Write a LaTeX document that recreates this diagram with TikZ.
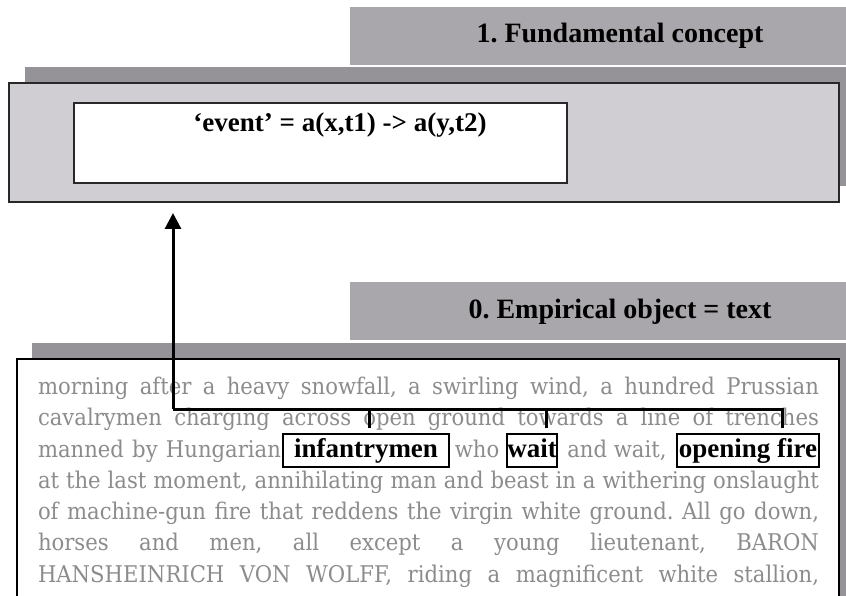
\documentclass[tikz,border=0pt]{standalone}
\usepackage{fontspec}
\setmainfont{Liberation Serif}
\newfontfamily\bodyfont[FakeStretch=0.92]{DejaVu Serif}
\usetikzlibrary{arrows.meta}
\frenchspacing

\definecolor{bannergray}{RGB}{169,167,171}
\definecolor{bandgray}{RGB}{149,147,151}
\definecolor{panelgray}{RGB}{208,206,210}
\definecolor{framegray}{RGB}{40,40,40}
\definecolor{bodygray}{RGB}{140,140,140}

\tikzset{
  block/.style={anchor=north west, inner sep=0pt, outer sep=0pt},
  banner/.style={block, fill=bannergray, minimum width=540pt, minimum height=58pt,
    font=\bfseries\fontsize{28}{30}\selectfont, text height=19pt, text depth=5pt},
  band/.style={block, fill=bandgray, minimum width=830pt},
  panel/.style={block, fill=panelgray, draw=framegray, line width=1.5pt,
    minimum width=830pt, minimum height=119pt},
  whitebox/.style={block, fill=white, draw=framegray, line width=1.5pt,
    minimum width=493pt, minimum height=80pt},
  textframe/.style={block, fill=white, draw=black, line width=1.5pt,
    minimum width=822pt, minimum height=300pt},
  formula/.style={anchor=base, inner sep=0pt, font=\bfseries\fontsize{27}{30}\selectfont},
  bodyline/.style={anchor=base west, inner sep=0pt, outer sep=0pt, text=bodygray,
    font=\bodyfont\fontsize{23}{28}\selectfont},
  wordbox/.style={anchor=base, draw=black, line width=1.3pt, inner xsep=0pt, inner ysep=3pt,
    text height=20pt, text depth=7pt, font=\bfseries\fontsize{27}{30}\selectfont},
  conn/.style={line width=3pt, black},
}

\begin{document}
\begin{tikzpicture}[x=1pt, y=-1pt]
  \useasboundingbox (0,0) rectangle (846,596);
  \clip (0,0) rectangle (846,596);

  % level 1: fundamental concept
  \node[banner] (banner1) at (350,7) {1. Fundamental concept};
  \node[band, minimum height=119pt] (band1) at (25,67) {};
  \node[panel] (lvl1) at (9,83) {};
  \node[whitebox] (concept) at (74,103) {};
  \node[formula] (formula) at (340,132) {‘event’ = a(x,t1) -> a(y,t2)};

  % level 0: empirical object
  \node[banner] (banner0) at (350,282) {0. Empirical object = text};
  \node[band, minimum height=300pt] (band0) at (32,343) {};
  \node[textframe] (textbox) at (17,359) {};

  % the quoted passage, one justified line per node
  \node[bodyline] (l1) at (38,394) {\makebox[781pt][s]{morning after a heavy snowfall, a swirling wind, a hundred Prussian}};
  \node[bodyline] (l2) at (38,425) {\makebox[781pt][s]{cavalrymen charging across open ground towards a line of trenches}};
  \node[bodyline] (l3a) at (38,457) {\makebox[243pt][s]{manned by Hungarian}};
  \node[wordbox, minimum width=166pt] (inf) at (366,457) {infantrymen};
  \node[bodyline, anchor=base] (l3b) at (477,457) {who};
  \node[wordbox, minimum width=50pt] (wt) at (532,457) {wait};
  \node[bodyline, anchor=base] (l3c) at (617,457) {and wait,};
  \node[wordbox, minimum width=142pt] (fire) at (748,457) {opening fire};
  \node[bodyline] (l4) at (38,488) {\makebox[781pt][s]{at the last moment, annihilating man and beast in a withering onslaught}};
  \node[bodyline] (l5) at (38,519) {\makebox[781pt][s]{of machine-gun fire that reddens the virgin white ground. All go down,}};
  \node[bodyline] (l6) at (38,550) {\makebox[781pt][s]{horses and men, all except a young lieutenant, BARON}};
  \node[bodyline] (l7) at (38,582) {\makebox[781pt][s]{HANSHEINRICH VON WOLFF, riding a magnificent white stallion,}};

  % connectors from the marked words up to the concept
  \coordinate (hub) at (173,409);
  \coordinate (d1) at ([xshift=3pt,yshift=5pt]inf.north);
  \coordinate (d2) at ([xshift=14pt,yshift=5pt]wt.north);
  \coordinate (d3) at ([xshift=34pt,yshift=5pt]fire.north);
  \draw[conn] (d3) |- (hub);
  \draw[conn] (d1) -- (d1 |- hub);
  \draw[conn] (d2) -- (d2 |- hub);
  \draw[conn, -{Triangle[width=16pt,length=16pt]}, shorten >=11pt] (hub) -- (hub |- lvl1.south);
\end{tikzpicture}
\end{document}
